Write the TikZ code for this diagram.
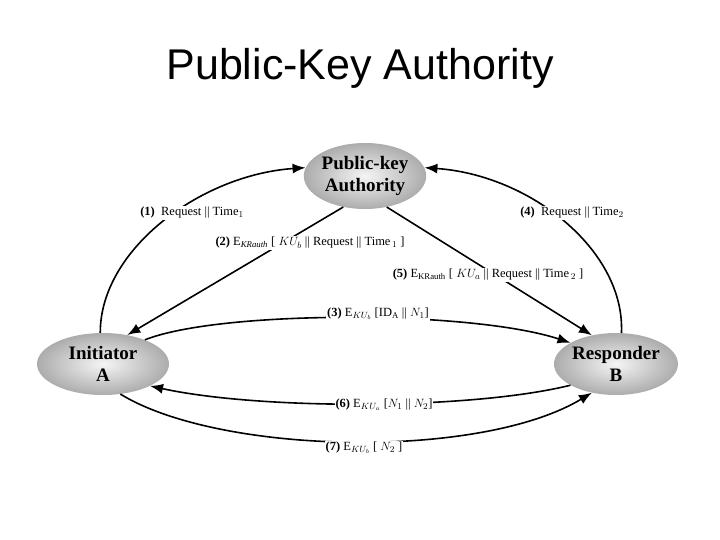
\documentclass[tikz,border=0pt]{standalone}
\usepackage{fontspec}
\setmainfont{Liberation Serif}
\newfontfamily\titlefont{Liberation Sans}
\usetikzlibrary{arrows.meta,shapes.geometric}
\begin{document}
\begin{tikzpicture}[x=1pt,y=-1pt,
  party/.style={ellipse,shading=radial,inner color=gray!8,outer color=gray!65,font=\bfseries\fontsize{19}{22}\selectfont,align=center,inner sep=0pt},
  msg/.style={-{Latex[length=13pt,width=10pt]},line width=1.6pt},
  lab/.style={fill=white,inner sep=1pt,font=\fontsize{12.5}{14}\selectfont}]
\useasboundingbox (0,0) rectangle (720,540);
\node[font=\titlefont\fontsize{43}{50}\selectfont] (title) at (360,68) {Public-Key Authority};
\node[party,minimum width=120,minimum height=66] (P) at (365,176) {Public-key\\Authority};
\node[party,minimum width=132,minimum height=62] (A) at (103,364) {Initiator\\A};
\node[party,minimum width=102,minimum height=62] (B) at (616,364) {Responder\\B};

\draw[msg] (A.95) .. controls (100,250) and (200,175) .. (P.172);
\draw[msg] (B.80) .. controls (625,250) and (530,175) .. (P.8);
\draw[msg] (P.235) -- (A.50);
\draw[msg] (P.-55) -- (B.130);
\draw[msg] (A.30) .. controls (220,310) and (470,310) .. (B.155);
\draw[msg] (B.205) .. controls (470,410) and (260,410) .. (A.-25);
\draw[msg] (A.-60) .. controls (220,455) and (480,460) .. (B.-130);

\node[lab] (l1) at (192,213) {\textbf{(1)}\ \ Request || Time$_1$};
\node[lab] (l4) at (572,213) {\textbf{(4)}\ \ Request || Time$_2$};
\node[lab] (l2) at (310,243) {\textbf{(2)} E$_{\mathit{KRauth}}$ [ $KU_b$ || Request || Time$_{\,1}$ ]};
\node[lab] (l5) at (488,275) {\textbf{(5)} E$_{\mathrm{KRauth}}$ [ $KU_a$ || Request || Time$_{\,2}$ ]};
\node[lab] (l3) at (378,314) {\textbf{(3)} E$_{KU_b}$ [ID$_{\mathrm A}$ || $N_1$]};
\node[lab] (l6) at (384,405) {\textbf{(6)} E$_{KU_a}$ [$N_1$ || $N_2$]};
\node[lab] (l7) at (364,448) {\textbf{(7)} E$_{KU_b}$ [ $N_2$ ]};
\end{tikzpicture}
\end{document}
